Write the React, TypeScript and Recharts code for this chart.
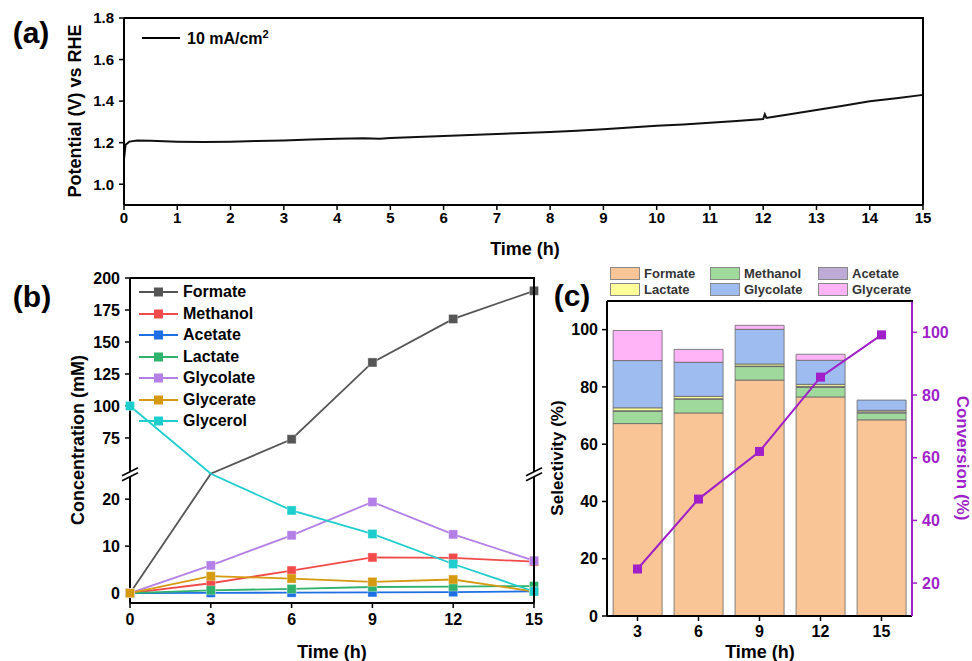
import React from "react";
import { LineChart, Line, XAxis, YAxis, ComposedChart, Bar, ReferenceDot } from "recharts";

const FONT = "'Liberation Sans', Arial, Helvetica, sans-serif";
const NARROW = "'Liberation Sans Narrow', 'Arial Narrow', 'Liberation Sans', Arial, sans-serif";
const PURPLE = "#a01fc8";

// ---- (a) potential vs time at 10 mA/cm2 ----
const aTime = [0, 0.03, 0.1, 0.25, 0.5, 1, 1.5, 2, 2.5, 3, 3.5, 4, 4.5, 4.8, 5, 5.5, 6, 6.5, 7, 7.5, 8, 8.5, 9, 9.5, 10, 10.5, 11, 11.5, 12, 12.03, 12.06, 12.2, 12.5, 13, 13.5, 14, 14.5, 15];
const aPotential = [1.12, 1.19, 1.205, 1.21, 1.209, 1.205, 1.203, 1.205, 1.208, 1.211, 1.215, 1.219, 1.221, 1.219, 1.222, 1.227, 1.232, 1.237, 1.242, 1.246, 1.251, 1.257, 1.265, 1.273, 1.281, 1.288, 1.296, 1.304, 1.314, 1.337, 1.319, 1.325, 1.337, 1.357, 1.378, 1.399, 1.414, 1.43];
const aXTicks = [0, 1, 2, 3, 4, 5, 6, 7, 8, 9, 10, 11, 12, 13, 14, 15];
const aYTicks = [1.0, 1.2, 1.4, 1.6, 1.8];

// ---- (b) concentrations (mM) ----
const bTime = [0, 3, 6, 9, 12, 15];
const bNames = ["Formate", "Methanol", "Acetate", "Lactate", "Glycolate", "Glycerate", "Glycerol"];
const bColors = ["#555555", "#f24a4a", "#1f6fe4", "#2eb26c", "#b47fe6", "#d69a10", "#1ecdcd"];
const bFormate = [0, 38, 74, 134, 168, 190];
const bMethanol = [0, 2.1, 4.8, 7.6, 7.5, 6.7];
const bAcetate = [0, 0.05, 0.1, 0.15, 0.2, 0.4];
const bLactate = [0, 0.6, 0.9, 1.3, 1.4, 1.5];
const bGlycolate = [0, 5.9, 12.3, 19.4, 12.5, 6.9];
const bGlycerate = [0, 3.6, 3.1, 2.4, 2.9, 0.35];
const bGlycerol = [100, 45, 17.6, 12.6, 6.2, 0.35];
const bLowTicks = [0, 10, 20];
const bHighTicks = [75, 100, 125, 150, 175, 200];

// ---- (c) selectivity (%) and conversion (%) ----
const cTime = ["3", "6", "9", "12", "15"];
const cNames = ["Formate", "Methanol", "Acetate", "Lactate", "Glycolate", "Glycerate"];
const cColors = ["#f9c596", "#a0d99c", "#bdabd6", "#ffff99", "#9ebcf0", "#ffb4f7"];
const cFormate = [67.2, 70.9, 82.4, 76.5, 68.5];
const cMethanol = [4.3, 4.8, 4.7, 3.3, 2.4];
const cAcetate = [0.2, 0.2, 0.2, 0.4, 0.4];
const cLactate = [1.0, 0.8, 0.7, 0.7, 0.5];
const cGlycolate = [16.5, 11.9, 12.1, 8.4, 3.6];
const cGlycerate = [10.5, 4.5, 1.4, 2.1, 0];
const cConversion = [24.5, 46.8, 62.0, 85.7, 99.2];
const cLeftTicks = [0, 20, 40, 60, 80, 100];
const cRightTicks = [20, 40, 60, 80, 100];

// broken axis for (b): 0..25.4 kept linear, 47..200 compressed above the break
const BRK_LO = 25.4;
const BRK_HI = 47;
const HI_SCALE = 0.2723;
const brk = (v: number) => (v <= BRK_LO ? v : v < BRK_HI ? BRK_LO : BRK_LO + (v - BRK_HI) * HI_SCALE);
const unbrk = (d: number) => (d <= BRK_LO + 1e-6 ? d : BRK_HI + (d - BRK_LO) / HI_SCALE);
const inGap = (v: number) => v > BRK_LO && v < BRK_HI;
const B_MIN = -2.1;
const B_MAX = brk(200);

const aData = aTime.map((t, i) => ({ t, v: aPotential[i] }));

const bRaw = [bFormate, bMethanol, bAcetate, bLactate, bGlycolate, bGlycerate, bGlycerol];
const bData = bTime.map((t, i) => {
  const row: Record<string, number> = { t };
  bNames.forEach((n, k) => (row[n] = brk(bRaw[k][i])));
  return row;
});

const cRaw = [cFormate, cMethanol, cAcetate, cLactate, cGlycolate, cGlycerate];
const cData = cTime.map((t, i) => {
  const row: Record<string, number | string> = { t, Conversion: cConversion[i] };
  cNames.forEach((n, k) => (row[n] = cRaw[k][i]));
  return row;
});

// panel geometry: chart box, margins and axis sizes
const A = { x: 0, y: 0, w: 972, h: 262, m: { top: 18, right: 49, bottom: 27, left: 64 }, yw: 60, xh: 30 };
const B = { x: 0, y: 265, w: 560, h: 396, m: { top: 13, right: 26, bottom: 28, left: 70 }, yw: 60, xh: 30 };
const C = { x: 540, y: 250, w: 432, h: 411, m: { top: 51, right: 15, bottom: 17, left: 25 }, yw: 42, yw2: 45, xh: 28 };

const AX = { stroke: "#000", strokeWidth: 2 };
const TL = { stroke: "#000", strokeWidth: 1.5 };
const tickB = { fill: "#000", fontSize: 16, fontWeight: 700, fontFamily: FONT };

// top + right frame lines of a plot box (gap = fraction from the top where the right line is broken)
function Frame({ p, right = true, rw = 0, gap }: any) {
  const left = p.x + p.m.left + p.yw;
  const top = p.y + p.m.top;
  const width = p.w - p.m.left - p.m.right - p.yw - rw;
  const height = p.h - p.m.top - p.m.bottom - p.xh;
  const line: React.CSSProperties = { position: "absolute", background: "#000", pointerEvents: "none" };
  const x = left + width - 1;
  const parts = [<div key="t" style={{ ...line, left, top: top - 1, width: width + 1, height: 2 }} />];
  if (right && gap != null) {
    const gy = top + gap * height;
    parts.push(<div key="r1" style={{ ...line, left: x, top: top - 1, width: 2, height: gy - 2 - (top - 1) }} />);
    parts.push(<div key="r2" style={{ ...line, left: x, top: gy + 3, width: 2, height: top + height - (gy + 3) }} />);
  } else if (right) {
    parts.push(<div key="r" style={{ ...line, left: x, top: top - 1, width: 2, height: height + 1 }} />);
  }
  return <>{parts}</>;
}

function Txt({ x, y, size, rotate = 0, color = "#000", children }: any) {
  return (
    <div
      style={{
        position: "absolute",
        left: x,
        top: y,
        transform: `translate(-50%, -50%) rotate(${rotate}deg)`,
        fontSize: size,
        fontWeight: 700,
        color,
        whiteSpace: "nowrap",
        lineHeight: 1,
      }}
    >
      {children}
    </div>
  );
}

function BreakMark(props: any) {
  const { cx, cy } = props;
  if (cx == null || cy == null) return <g />;
  return (
    <g>
      <polygon points={`${cx - 8},${cy + 2} ${cx + 8},${cy - 6} ${cx + 8},${cy - 1} ${cx - 8},${cy + 7}`} fill="#fff" />
      <line x1={cx - 8} y1={cy + 2} x2={cx + 8} y2={cy - 6} stroke="#000" strokeWidth={1.5} />
      <line x1={cx - 8} y1={cy + 7} x2={cx + 8} y2={cy - 1} stroke="#000" strokeWidth={1.5} />
    </g>
  );
}

function squareDot(color: string, raw: number[]) {
  return (p: any) => {
    const { cx, cy, index } = p;
    if (cx == null || cy == null || inGap(raw[index])) return <g key={`d${index}`} />;
    return <rect key={`d${index}`} x={cx - 4.5} y={cy - 4.5} width={9} height={9} fill={color} stroke="#fff" strokeOpacity={0.4} strokeWidth={0.8} />;
  };
}

function PanelA() {
  return (
    <div style={{ position: "absolute", left: A.x, top: A.y }}>
      <LineChart width={A.w} height={A.h} data={aData} margin={A.m}>
        <XAxis
          dataKey="t"
          type="number"
          domain={[0, 15]}
          ticks={aXTicks}
          interval={0}
          height={A.xh}
          axisLine={AX}
          tickLine={TL}
          tickSize={5}
          tickMargin={2}
          tick={{ fill: "#000", fontSize: 15, fontWeight: 700, fontFamily: NARROW }}
        />
        <YAxis
          type="number"
          domain={[0.9, 1.8]}
          ticks={aYTicks}
          width={A.yw}
          axisLine={AX}
          tickLine={TL}
          tickSize={5}
          tickMargin={5}
          tickFormatter={(v: number) => v.toFixed(1)}
          tick={{ fill: "#000", fontSize: 15, fontWeight: 700, fontFamily: NARROW }}
        />
        <Line type="linear" dataKey="v" stroke="#111" strokeWidth={2} dot={false} isAnimationActive={false} />
      </LineChart>
    </div>
  );
}

function PanelB() {
  const yTicks = [...bLowTicks, ...bHighTicks].map(brk);
  return (
    <div style={{ position: "absolute", left: B.x, top: B.y }}>
      <LineChart width={B.w} height={B.h} data={bData} margin={B.m}>
        <XAxis
          dataKey="t"
          type="number"
          domain={[0, 15]}
          ticks={bTime}
          interval={0}
          height={B.xh}
          axisLine={AX}
          tickLine={TL}
          tickSize={5}
          tickMargin={6}
          tick={tickB}
        />
        <YAxis
          type="number"
          domain={[B_MIN, B_MAX]}
          ticks={yTicks}
          interval={0}
          width={B.yw}
          axisLine={AX}
          tickLine={TL}
          tickSize={5}
          tickMargin={5}
          tickFormatter={(d: number) => String(Math.round(unbrk(d)))}
          tick={tickB}
        />
        {bNames.map((n, k) => (
          <Line
            key={n}
            type="linear"
            dataKey={n}
            stroke={bColors[k]}
            strokeWidth={1.8}
            dot={squareDot(bColors[k], bRaw[k])}
            activeDot={false}
            isAnimationActive={false}
          />
        ))}
        <ReferenceDot x={0} y={BRK_LO} r={0} ifOverflow="visible" shape={BreakMark} />
        <ReferenceDot x={15} y={BRK_LO} r={0} ifOverflow="visible" shape={BreakMark} />
      </LineChart>
    </div>
  );
}

function PanelC() {
  return (
    <div style={{ position: "absolute", left: C.x, top: C.y }}>
      <ComposedChart width={C.w} height={C.h} data={cData} margin={C.m} barCategoryGap="10%">
        <XAxis dataKey="t" height={C.xh} axisLine={AX} tickLine={TL} tickSize={5} tickMargin={5} tick={tickB} interval={0} />
        <YAxis
          yAxisId="left"
          type="number"
          domain={[0, 110]}
          ticks={cLeftTicks}
          interval={0}
          width={C.yw}
          axisLine={AX}
          tickLine={TL}
          tickSize={5}
          tickMargin={4}
          tick={tickB}
        />
        <YAxis
          yAxisId="right"
          orientation="right"
          type="number"
          domain={[9.5, 110]}
          ticks={cRightTicks}
          interval={0}
          width={C.yw2}
          axisLine={{ stroke: PURPLE, strokeWidth: 2 }}
          tickLine={{ stroke: PURPLE, strokeWidth: 1.5 }}
          tickSize={5}
          tickMargin={5}
          tick={{ ...tickB, fill: PURPLE }}
        />
        {cNames.map((n, k) => (
          <Bar
            key={n}
            yAxisId="left"
            dataKey={n}
            stackId="s"
            fill={cColors[k]}
            stroke="#666"
            strokeOpacity={0.8}
            strokeWidth={1}
            isAnimationActive={false}
          />
        ))}
        <Line
          yAxisId="right"
          type="linear"
          dataKey="Conversion"
          stroke={PURPLE}
          strokeWidth={2}
          dot={(p: any) => <rect key={`c${p.index}`} x={p.cx - 4.5} y={p.cy - 4.5} width={9} height={9} fill={PURPLE} />}
          activeDot={false}
          isAnimationActive={false}
        />
      </ComposedChart>
    </div>
  );
}

export default function App() {
  return (
    <div
      style={{
        position: "absolute",
        left: 0,
        top: 0,
        width: 972,
        height: 661,
        background: "#fff",
        fontFamily: FONT,
        overflow: "hidden",
      }}
    >
      <PanelA />
      <PanelB />
      <PanelC />
      <Frame p={A} />
      <Frame p={B} gap={(B_MAX - BRK_LO) / (B_MAX - B_MIN)} />
      <Frame p={C} right={false} rw={C.yw2} />

      {/* panel letters */}
      <Txt x={31} y={33} size={30}>(a)</Txt>
      <Txt x={32} y={297} size={30}>(b)</Txt>
      <Txt x={572} y={296} size={30}>(c)</Txt>

      {/* axis titles */}
      <Txt x={75} y={111} size={18} rotate={-90}>Potential (V) vs RHE</Txt>
      <Txt x={525} y={249} size={18}>Time (h)</Txt>
      <Txt x={78} y={440} size={18} rotate={-90}>Concentration (mM)</Txt>
      <Txt x={332} y={652} size={18}>Time (h)</Txt>
      <Txt x={557} y={458} size={17} rotate={-90}>Selectivity (%)</Txt>
      <Txt x={760} y={652} size={18}>Time (h)</Txt>
      <Txt x={962} y={458} size={17} rotate={90} color={PURPLE}>Conversion (%)</Txt>

      {/* legend (a) */}
      <div style={{ position: "absolute", left: 142, top: 27, display: "flex", alignItems: "center", height: 22 }}>
        <div style={{ width: 38, height: 2, background: "#000" }} />
        <span style={{ marginLeft: 7, fontSize: 16, fontWeight: 700, fontFamily: NARROW }}>
          10 mA/cm<sup style={{ fontSize: 11 }}>2</sup>
        </span>
      </div>

      {/* legend (b) */}
      {bNames.map((n, k) => (
        <div key={n} style={{ position: "absolute", left: 139, top: 282 + k * 21.5, height: 20, display: "flex", alignItems: "center" }}>
          <svg width={39} height={20}>
            <line x1={0} y1={10} x2={39} y2={10} stroke={bColors[k]} strokeWidth={2} />
            <rect x={15} y={5.5} width={9} height={9} fill={bColors[k]} />
          </svg>
          <span style={{ marginLeft: 5, fontSize: 16, fontWeight: 700 }}>{n}</span>
        </div>
      ))}

      {/* legend (c) */}
      {cNames.map((n, k) => (
        <div
          key={n}
          style={{
            position: "absolute",
            left: [610, 710, 818][k % 3],
            top: k < 3 ? 265 : 281,
            height: 16,
            display: "flex",
            alignItems: "center",
          }}
        >
          <div style={{ width: 28, height: 11, background: cColors[k], border: "1.5px solid #888" }} />
          <span style={{ marginLeft: 4, fontSize: 13, fontWeight: 700, color: "#333" }}>{n}</span>
        </div>
      ))}
    </div>
  );
}
